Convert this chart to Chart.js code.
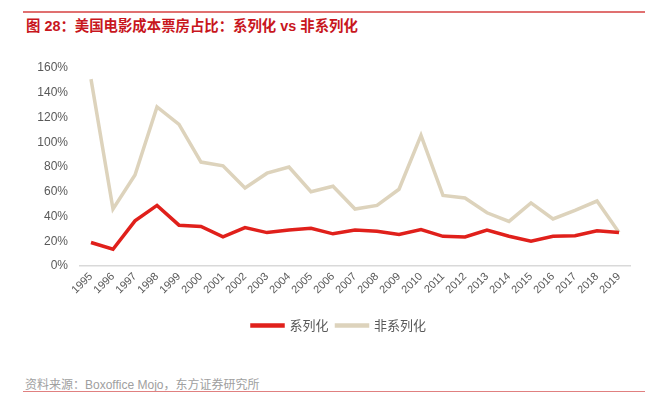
<!DOCTYPE html>
<html><head><meta charset="utf-8">
<script src="https://cdn.jsdelivr.net/npm/chart.js@4/dist/chart.umd.min.js"></script>
<style>
html,body{margin:0;padding:0;background:#fff;width:658px;height:395px;overflow:hidden;font-family:"Liberation Sans","Noto Sans CJK SC",sans-serif;}
#topline{position:absolute;left:23px;top:11px;width:622px;height:2px;background:#e07070;}
#title{position:absolute;left:26px;top:14px;font-size:14.4px;font-weight:bold;color:#c8161d;font-family:"Liberation Sans","Noto Sans CJK SC",sans-serif;white-space:nowrap;}
#wrap{position:absolute;left:0;top:40px;width:658px;height:304px;}
#source{position:absolute;left:25px;top:375px;font-size:12px;color:#a0a0a0;white-space:nowrap;}
#botline{position:absolute;left:23px;top:391px;width:622px;height:1px;background:#e08080;}
</style></head>
<body>
<div id="topline"></div>
<div id="title">图 28：美国电影成本票房占比：系列化 vs 非系列化</div>
<div id="wrap"><canvas id="c" width="658" height="304"></canvas></div>
<div id="source">资料来源：Boxoffice Mojo，东方证券研究所</div>
<div id="botline"></div>
<script>
const years = ['1995','1996','1997','1998','1999','2000','2001','2002','2003','2004','2005','2006','2007','2008','2009','2010','2011','2012','2013','2014','2015','2016','2017','2018','2019'];
const series = [19,13.5,36.5,49,33,32,23.5,31,27,29,30.5,26,29,28,25.5,29.5,24,23.5,29,24,20,24,24.5,28.5,27];
const nonSeries = [151,46,73.5,128.5,114.5,84,81,63,75,80,60,64.5,46,49,62,105.5,57,55,43,36,51,38,45,52.5,27];
const yTicks = [0,20,40,60,80,100,120,140,160];

const shiftLegend = {
  id:'shiftLegend',
  afterLayout(chart){
    if(chart.legend){ chart.legend.left += 24; chart.legend.right += 24; }
  }
};

new Chart(document.getElementById('c'), {
  type: 'line',
  data: {
    labels: years,
    datasets: [
      {label:'系列化', data: series, borderColor:'#e0201b', backgroundColor:'#e0201b', borderWidth:3.5, pointRadius:0, tension:0},
      {label:'非系列化', data: nonSeries, borderColor:'#ddd3bc', backgroundColor:'#ddd3bc', borderWidth:3.5, pointRadius:0, tension:0}
    ]
  },
  plugins:[shiftLegend],
  options: {
    responsive:false, animation:false,
    layout:{padding:{left:0,right:28,top:28,bottom:2}},
    plugins:{
      legend:{position:'bottom', labels:{boxWidth:31, boxHeight:1, color:'#595959', font:{size:13, family:'"Noto Sans CJK SC","Liberation Sans",sans-serif'}, padding:8}},
      tooltip:{enabled:false}
    },
    scales:{
      y:{min:0,max:160,
        afterBuildTicks:(s)=>{s.ticks=yTicks.map(v=>({value:v}));},
        afterFit:(s)=>{s.width=80;},
        grid:{display:false, drawTicks:false},
        border:{display:false},
        ticks:{color:'#595959', font:{size:12, family:'"Liberation Sans",sans-serif'}, padding:12, callback:(v)=>v+'%'}
      },
      x:{offset:true,
        grid:{display:false, drawTicks:false},
        border:{display:true,color:'#d9d9d9',width:1.5},
        afterFit:(s)=>{s.height=45;},
        ticks:{color:'#595959', font:{size:11, family:'"Liberation Sans",sans-serif'}, maxRotation:45, minRotation:45, autoSkip:false, padding:4}
      }
    }
  }
});
</script>
</body></html>
